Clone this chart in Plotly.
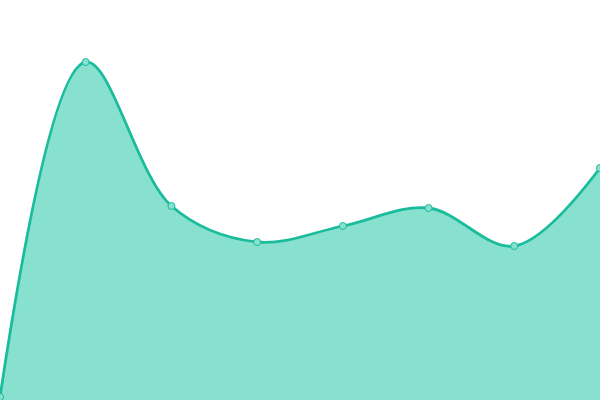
import plotly.graph_objects as go

# categories and series values (axis 0..400)
labels = ["A", "B", "C", "D", "E", "F", "G", "H"]
values = [3, 338, 194, 158, 174, 192, 154, 232]

fig = go.Figure(
    go.Scatter(
        x=list(range(len(labels))),
        y=values,
        mode="lines+markers",
        fill="tozeroy",
        fillcolor="#88e0cf",
        line=dict(color="#1abc9c", width=2.8, shape="spline", smoothing=1),
        marker=dict(size=7, color="#88e0cf", line=dict(color="#1abc9c", width=1)),
        hoverinfo="y",
    )
)

fig.update_layout(
    width=600,
    height=400,
    margin=dict(l=0, r=0, t=0, b=0),
    paper_bgcolor="white",
    plot_bgcolor="white",
    showlegend=False,
    xaxis=dict(visible=False, range=[0, len(labels) - 1], fixedrange=True),
    yaxis=dict(visible=False, range=[0, 400], fixedrange=True),
)

# the page's default body margin would shift the chart by 8px
fig.write_html(
    "out.html",
    config={"displayModeBar": False},
    post_script="document.body.style.margin='0';",
)
